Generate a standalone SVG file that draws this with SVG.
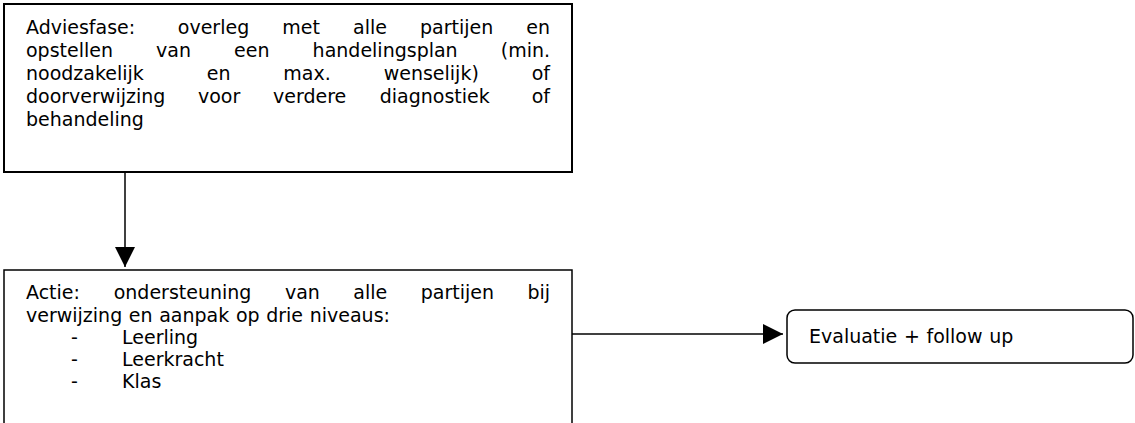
<svg xmlns="http://www.w3.org/2000/svg" width="1135" height="423" viewBox="0 0 1135 423">
  <defs>
    <marker id="arrow" viewBox="0 0 20 20" refX="20" refY="10" markerWidth="20" markerHeight="20" markerUnits="userSpaceOnUse" orient="auto">
      <path d="M0,0 L20,10 L0,20 Z" fill="#000"/>
    </marker>
    <style>
      .box { fill: #fff; stroke: #000; }
      .txt { font-family: "DejaVu Sans", Verdana, sans-serif; font-size: 19px; word-spacing: 0.6px; fill: #000; }
      .end { text-anchor: end; }
      .conn { stroke: #000; stroke-width: 1.5; fill: none; marker-end: url(#arrow); }
    </style>
  </defs>
  <rect width="1135" height="423" fill="#fff"/>

  <!-- advice phase (justified lines, one tspan per word) -->
  <g id="adviesfase">
    <rect class="box" x="4" y="4" width="568" height="168" stroke-width="2"/>
    <text class="txt" y="34"><tspan x="26">Adviesfase:</tspan><tspan x="177.8">overleg</tspan><tspan x="282.3">met</tspan><tspan x="353">alle</tspan><tspan x="420">partijen</tspan></text>
    <text class="txt end" x="550" y="34">en</text>
    <text class="txt" y="57"><tspan x="26">opstellen</tspan><tspan x="156.1">van</tspan><tspan x="234.1">een</tspan><tspan x="312.6">handelingsplan</tspan></text>
    <text class="txt end" x="550" y="57">(min.</text>
    <text class="txt" y="80"><tspan x="26">noodzakelijk</tspan><tspan x="206.7">en</tspan><tspan x="283.3">max.</tspan><tspan x="383.7">wenselijk)</tspan></text>
    <text class="txt end" x="550" y="80">of</text>
    <text class="txt" y="103"><tspan x="26">doorverwijzing</tspan><tspan x="198">voor</tspan><tspan x="273">verdere</tspan><tspan x="379.7">diagnostiek</tspan></text>
    <text class="txt end" x="550" y="103">of</text>
    <text class="txt" x="26" y="126">behandeling</text>
  </g>

  <!-- action phase -->
  <g id="actie">
    <rect class="box" x="4" y="270" width="568" height="170" stroke-width="1.5"/>
    <text class="txt" y="299"><tspan x="26">Actie:</tspan><tspan x="113.7">ondersteuning</tspan><tspan x="284.9">van</tspan><tspan x="353.3">alle</tspan><tspan x="420.7">partijen</tspan></text>
    <text class="txt end" x="550" y="299">bij</text>
    <text class="txt" x="26" y="322">verwijzing en aanpak op drie niveaus:</text>
    <text class="txt" x="71" y="344">-</text>
    <text class="txt" x="122" y="344">Leerling</text>
    <text class="txt" x="71" y="366">-</text>
    <text class="txt" x="122" y="366">Leerkracht</text>
    <text class="txt" x="71" y="388">-</text>
    <text class="txt" x="122" y="388">Klas</text>
  </g>

  <!-- evaluation -->
  <g id="evaluatie">
    <rect class="box" x="787" y="310" width="346" height="53" rx="8" ry="8" stroke-width="1.5"/>
    <text class="txt" x="809" y="343">Evaluatie + follow up</text>
  </g>

  <g id="connectors">
    <line class="conn" x1="125" y1="172" x2="125" y2="267"/>
    <line class="conn" x1="572" y1="334" x2="783" y2="334"/>
  </g>
</svg>
